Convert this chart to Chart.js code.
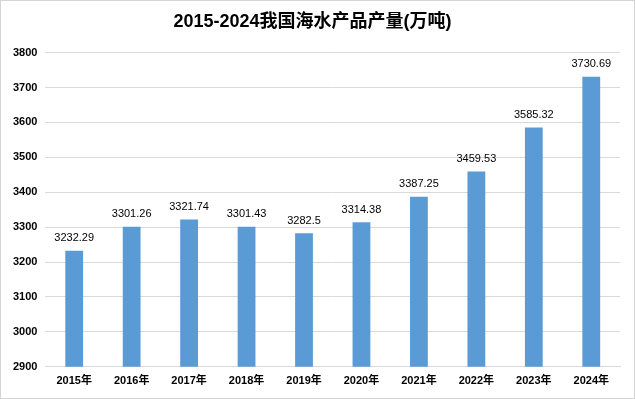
<!DOCTYPE html>
<html>
<head>
<meta charset="utf-8">
<script src="https://cdn.jsdelivr.net/npm/chart.js@4.4.1/dist/chart.umd.min.js"></script>
<style>
    html, body { margin: 0; padding: 0; background: #fff; }
    .wrap { width: 635px; height: 399px; box-sizing: border-box; border: 1px solid #d4d4d4; position: relative; }
    canvas { display: block; }
</style>
</head>
<body>
<div class="wrap"><canvas id="chart" width="633" height="397"></canvas></div>
<script>
const years  = ['2015年','2016年','2017年','2018年','2019年','2020年','2021年','2022年','2023年','2024年'];
const output = [3232.29, 3301.26, 3321.74, 3301.43, 3282.5, 3314.38, 3387.25, 3459.53, 3585.32, 3730.69];
const labels = ['3232.29','3301.26','3321.74','3301.43','3282.5','3314.38','3387.25','3459.53','3585.32','3730.69'];

const FONT = "'Liberation Sans', 'Noto Sans CJK SC', sans-serif";

// 柱顶数值标签
const valueLabels = {
    id: 'valueLabels',
    afterDatasetsDraw(chart) {
        const ctx = chart.ctx;
        const meta = chart.getDatasetMeta(0);
        ctx.save();
        ctx.font = `11px ${FONT}`;
        ctx.fillStyle = '#000';
        ctx.textAlign = 'center';
        ctx.textBaseline = 'bottom';
        meta.data.forEach((bar, i) => {
            ctx.fillText(labels[i], bar.x, bar.y - 7);
        });
        ctx.restore();
    }
};

new Chart(document.getElementById('chart').getContext('2d'), {
    type: 'bar',
    data: {
        labels: years,
        datasets: [{
            data: output,
            backgroundColor: '#5b9bd5',
            borderWidth: 0,
            barPercentage: 0.62,
            categoryPercentage: 0.5,
        }],
    },
    options: {
        responsive: false,
        animation: false,
        layout: { padding: { left: 4, right: 14, top: 0, bottom: 2 } },
        plugins: {
            legend: { display: false },
            tooltip: { enabled: false },
            title: {
                display: true,
                text: '2015-2024我国海水产品产量(万吨)',
                color: '#000',
                font: { family: FONT, size: 18, weight: 'bold' },
                padding: { top: 10, bottom: 20 },
            },
        },
        scales: {
            x: {
                grid: { display: false, drawTicks: false },
                border: { color: '#d9d9d9' },
                ticks: {
                    color: '#000',
                    padding: 8,
                    maxRotation: 0,
                    font: { family: FONT, size: 11, weight: 'bold' },
                },
            },
            y: {
                min: 2900,
                max: 3800,
                grid: { color: '#d9d9d9', drawTicks: false },
                border: { display: false },
                ticks: {
                    stepSize: 100,
                    color: '#000',
                    padding: 8,
                    callback: v => String(v),
                    font: { family: FONT, size: 11, weight: 'bold' },
                },
            },
        },
    },
    plugins: [valueLabels],
});
</script>
</body>
</html>
